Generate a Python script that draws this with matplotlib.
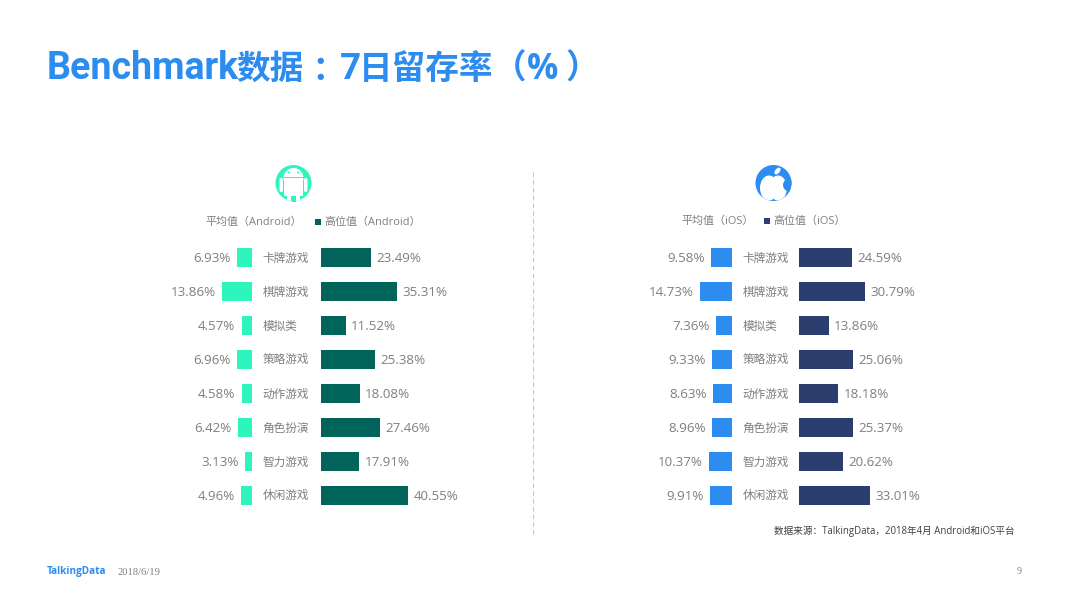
import matplotlib
matplotlib.use("Agg")
import matplotlib.pyplot as plt
from matplotlib.patches import Circle, Rectangle, FancyBboxPatch, Ellipse

plt.rcParams['font.family'] = ['Open Sans', 'Noto Sans CJK SC', 'DejaVu Sans']

W, H = 1066, 599
GRAY = '#7f7f7f'
BLUE = '#2d8cf0'
TEAL = '#2ef5be'

categories = ['卡牌游戏', '棋牌游戏', '模拟类', '策略游戏', '动作游戏', '角色扮演', '智力游戏', '休闲游戏']
android_avg = [6.93, 13.86, 4.57, 6.96, 4.58, 6.42, 3.13, 4.96]
android_high = [23.49, 35.31, 11.52, 25.38, 18.08, 27.46, 17.91, 40.55]
ios_avg = [9.58, 14.73, 7.36, 9.33, 8.63, 8.96, 10.37, 9.91]
ios_high = [24.59, 30.79, 13.86, 25.06, 18.18, 25.37, 20.62, 33.01]

fig = plt.figure(figsize=(W / 100, H / 100), dpi=100)
bg = fig.add_axes([0, 0, 1, 1])
bg.set_xlim(0, W)
bg.set_ylim(H, 0)
bg.axis('off')


def bars(x0, values, color, flip):
    # 2.14 px per percent, 34 px per row
    ax = fig.add_axes([x0 / W, 1 - 512.5 / H, 100 / W, 272 / H])
    ax.barh(range(len(values)), values, height=0.56, color=color)
    ax.set_ylim(7.5, -0.5)
    if flip:
        ax.set_xlim(100 / 2.14, 0)
    else:
        ax.set_xlim(0, 100 / 2.14)
    ax.axis('off')
    ax.patch.set_alpha(0)
    for i, v in enumerate(values):
        ax.annotate('%.2f%%' % v, (v, i), xytext=(-4.5 if flip else 4, -0.8),
                    textcoords='offset points', va='center',
                    ha='right' if flip else 'left', fontsize=9.6, color=GRAY)


bars(151.5, android_avg, TEAL, True)
bars(321, android_high, '#00645a', False)
bars(631.5, ios_avg, BLUE, True)
bars(799, ios_high, '#2c3e6d', False)

for i, c in enumerate(categories):
    y = 258 + 34 * i
    bg.text(262.5, y, c, fontsize=8.4, color=GRAY, va='center')
    bg.text(742.5, y, c, fontsize=8.4, color=GRAY, va='center')

# title is placed piece by piece, the original has wider full-width gaps
title_kw = dict(fontsize=24.2, fontweight='bold', color=BLUE, va='baseline')
bg.text(47, 79, 'Benchmark', family='Roboto', **{**title_kw, 'fontsize': 27})
bg.text(236, 79, '数据', **title_kw)
bg.text(320, 81, '：', family='Noto Sans CJK TC', ha='center', **title_kw)
bg.text(340, 79, '7', family='Roboto', **{**title_kw, 'fontsize': 26.5})
bg.text(359, 79, '日留存率', **title_kw)
bg.text(493, 79, '（', family='Noto Sans CJK TC', **title_kw)
bg.text(527, 79, '%', family='Open Sans', **{**title_kw, 'fontsize': 25})
bg.text(566, 79, '）', family='Noto Sans CJK TC', **title_kw)

# legends
bg.text(205, 222.5, '平均值（Android）', fontsize=7.9, color=GRAY, va='center')
bg.add_patch(Rectangle((315, 219), 6, 6, color='#00645a', lw=0))
bg.text(324, 222.5, '高位值（Android）', fontsize=7.9, color=GRAY, va='center')
bg.text(681, 221.5, '平均值（iOS）', fontsize=7.9, color=GRAY, va='center')
bg.add_patch(Rectangle((764, 218), 6, 6, color='#2c3e6d', lw=0))
bg.text(773, 221.5, '高位值（iOS）', fontsize=7.9, color=GRAY, va='center')

# android icon
disc = Circle((293.5, 183), 18, color=TEAL, lw=0)
bg.add_patch(disc)
white = [
    Ellipse((293.5, 178), 20, 20, color='white', lw=0),
    Rectangle((284, 177.5), 19, 18, color='white', lw=0),
    FancyBboxPatch((279.5, 178), 3.5, 14, boxstyle='round,pad=0,rounding_size=1.7', color='white', lw=0),
    FancyBboxPatch((304, 178), 3.5, 14, boxstyle='round,pad=0,rounding_size=1.7', color='white', lw=0),
    Rectangle((287, 194), 4, 8, color='white', lw=0),
    Rectangle((296, 194), 4, 8, color='white', lw=0),
]
for p in white:
    bg.add_patch(p)
    p.set_clip_path(disc)
bg.add_patch(Rectangle((283.5, 176.5), 20, 1, color=TEAL, lw=0))
bg.add_patch(Circle((289, 172.5), 1, color=TEAL, lw=0))
bg.add_patch(Circle((298, 172.5), 1, color=TEAL, lw=0))
bg.add_patch(Rectangle((291.5, 195.5), 4, 6, color=TEAL, lw=0))

# apple icon
disc2 = Circle((773.5, 183), 18, color=BLUE, lw=0)
bg.add_patch(disc2)
for p in [Ellipse((769, 188), 18, 25, color='white', lw=0),
          Ellipse((778, 188), 18, 25, color='white', lw=0)]:
    bg.add_patch(p)
    p.set_clip_path(disc2)
bite = Circle((789.5, 185), 6.5, color=BLUE, lw=0)
bg.add_patch(bite)
bite.set_clip_path(disc2)
bg.add_patch(Ellipse((777.5, 171), 4.5, 8, angle=40, color='white', lw=0))

bg.plot([533, 533], [172, 535], color='#c8c8c8', lw=0.8, ls=(0, (4, 3)))

bg.text(774, 531.5, '数据来源：TalkingData，2018年4月 Android和iOS平台', fontsize=6.9,
        color='#404040', va='center')
bg.text(47, 571.5, 'TalkingData', fontsize=7.2, fontweight='bold', color=BLUE, va='center')
bg.text(118, 572.5, '2018/6/19', fontsize=7.6, family='Liberation Serif', color='#808080', va='center')
bg.text(1019, 572, '9', fontsize=7.2, family='Liberation Serif', color='#808080', va='center', ha='center')

fig.savefig('out.png', dpi=100)
